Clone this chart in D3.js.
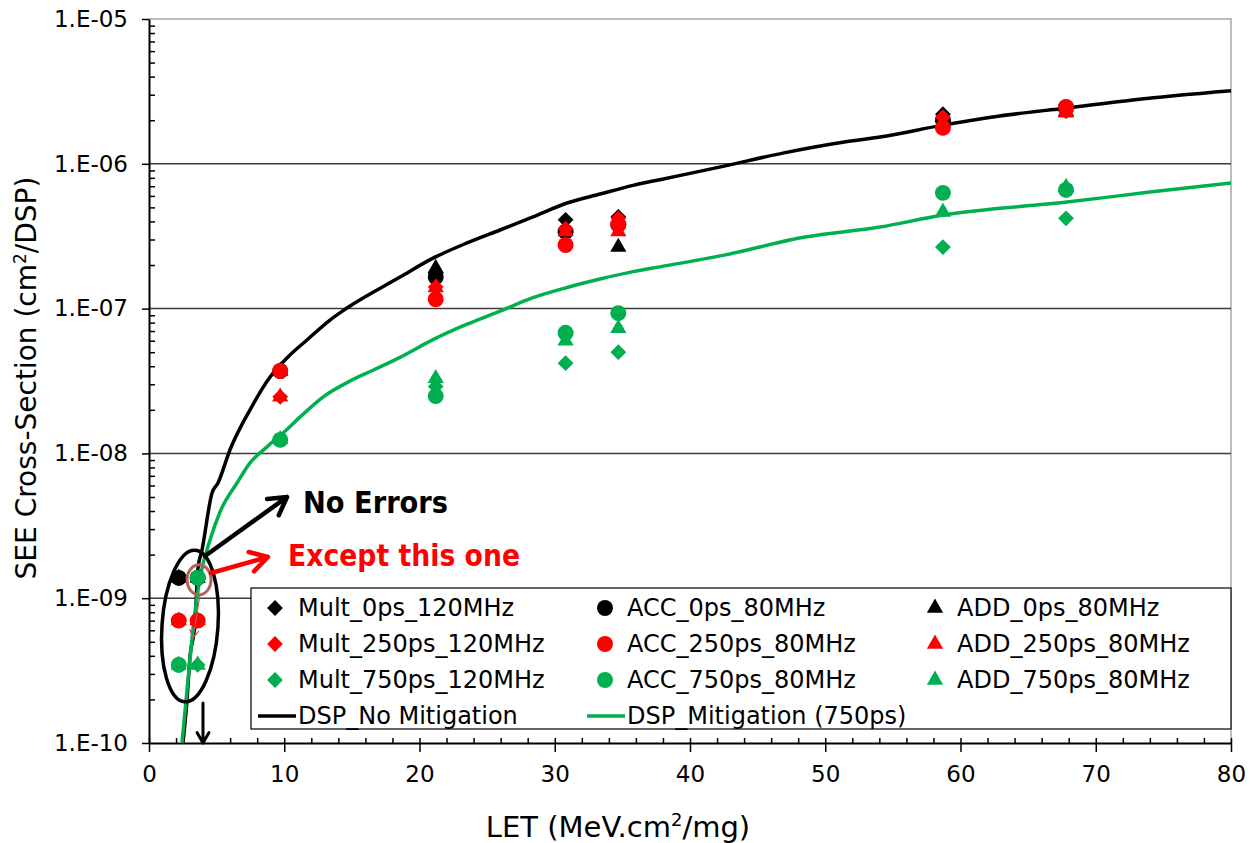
<!DOCTYPE html>
<html>
<head>
<meta charset="utf-8">
<script src="https://cdn.jsdelivr.net/npm/d3@7"></script>
<style>
  body { margin: 0; background: #fff; }
  text { font-family: "DejaVu Sans", sans-serif; }
</style>
</head>
<body>
<svg id="chart" width="1255" height="843"></svg>
<script>
// LET values of the measured points (MeV.cm2/mg)
const letValues = [2.2, 3.6, 9.7, 21.2, 30.8, 34.7, 58.7, 67.8];

// cross-sections (cm2/DSP)
const mult0ps   = [1.38e-9, 1.38e-9, 3.7e-8, 1.73e-7, 4.1e-7, 4.3e-7, 2.2e-6, 2.4e-6];
const acc0ps    = [1.38e-9, 1.38e-9, 3.7e-8, 1.65e-7, 3.4e-7, 3.8e-7, 2.0e-6, 2.45e-6];
const add0ps    = [1.38e-9, 1.38e-9, 3.7e-8, 1.9e-7, 3.6e-7, 2.66e-7, 2.1e-6, 2.3e-6];
const mult250ps = [7.0e-10, 7.0e-10, 2.46e-8, 1.41e-7, 3.55e-7, 4.2e-7, 2.1e-6, 2.3e-6];
const acc250ps  = [7.0e-10, 7.0e-10, 3.71e-8, 1.16e-7, 2.75e-7, 3.8e-7, 1.77e-6, 2.47e-6];
const add250ps  = [7.0e-10, 7.0e-10, 2.46e-8, 1.4e-7, 3.4e-7, 3.4e-7, 1.95e-6, 2.25e-6];
const mult750ps = [3.46e-10, 3.46e-10, 1.24e-8, 2.9e-8, 4.2e-8, 5.0e-8, 2.66e-7, 4.2e-7];
const acc750ps  = [3.46e-10, 1.38e-9, 1.24e-8, 2.49e-8, 6.8e-8, 9.3e-8, 6.3e-7, 6.6e-7];
const add750ps  = [3.46e-10, 3.46e-10, 1.25e-8, 3.3e-8, 6.0e-8, 7.3e-8, 4.65e-7, 6.9e-7];

// fitted curves
const fitLetNoMit = [2.51, 2.81, 3.03, 3.4, 3.62, 3.92, 4.66, 5.1, 5.99, 7.47, 8.95, 10.2, 11.68, 13.38, 14.64,
  18.56, 21.0, 23.51, 25.95, 28.39, 30.91, 33.35, 35.79, 37.86, 42.44, 46.95, 51.53, 54.05, 58.71, 62.92, 67.87, 72.75, 80];
const fitNoMitigation = [1.0e-10, 1.98e-10, 3.93e-10, 6.75e-10, 1.6e-9, 2.15e-9, 5.33e-9, 6.25e-9, 1.06e-8, 2.0e-8, 3.37e-8,
  4.56e-8, 6.07e-8, 8.34e-8, 1.01e-7, 1.65e-7, 2.23e-7, 2.84e-7, 3.49e-7, 4.3e-7, 5.36e-7, 6.18e-7, 7.1e-7, 7.8e-7,
  9.6e-7, 1.19e-6, 1.42e-6, 1.53e-6, 1.85e-6, 2.14e-6, 2.43e-6, 2.76e-6, 3.19e-6];
const fitLetMit = [2.44, 2.88, 3.33, 3.77, 4.51, 5.25, 6.51, 7.47, 8.72, 9.91, 11.16, 12.86, 14.86, 16.56, 18.56, 21.0,
  23.51, 25.95, 28.39, 30.91, 33.35, 35.79, 37.86, 42.44, 48.5, 54.05, 58.71, 67.87, 74.0, 80];
const fitMitigation = [1.0e-10, 2.72e-10, 7.08e-10, 1.38e-9, 2.52e-9, 3.94e-9, 6.25e-9, 8.6e-9, 1.11e-8, 1.38e-8, 1.78e-8,
  2.45e-8, 3.16e-8, 3.75e-8, 4.6e-8, 6.1e-8, 7.8e-8, 9.6e-8, 1.19e-7, 1.4e-7, 1.6e-7, 1.8e-7, 1.95e-7, 2.33e-7,
  3.12e-7, 3.66e-7, 4.43e-7, 5.44e-7, 6.38e-7, 7.36e-7];

const xTicks = [0, 10, 20, 30, 40, 50, 60, 70, 80];
const yTicks = [1e-10, 1e-9, 1e-8, 1e-7, 1e-6, 1e-5];

const BLACK = "#000000", RED = "#ff0000", GREEN = "#00b050";

const series = [
  { name: "Mult_0ps_120MHz",   shape: "diamond",  color: BLACK, values: mult0ps },
  { name: "ACC_0ps_80MHz",     shape: "circle",   color: BLACK, values: acc0ps },
  { name: "ADD_0ps_80MHz",     shape: "triangle", color: BLACK, values: add0ps },
  { name: "Mult_250ps_120MHz", shape: "diamond",  color: RED,   values: mult250ps },
  { name: "ACC_250ps_80MHz",   shape: "circle",   color: RED,   values: acc250ps },
  { name: "ADD_250ps_80MHz",   shape: "triangle", color: RED,   values: add250ps },
  { name: "Mult_750ps_120MHz", shape: "diamond",  color: GREEN, values: mult750ps },
  { name: "ACC_750ps_80MHz",   shape: "circle",   color: GREEN, values: acc750ps },
  { name: "ADD_750ps_80MHz",   shape: "triangle", color: GREEN, values: add750ps }
];
const fits = [
  { name: "DSP_No Mitigation",     color: BLACK, lets: fitLetNoMit, values: fitNoMitigation },
  { name: "DSP_Mitigation (750ps)", color: GREEN, lets: fitLetMit,   values: fitMitigation }
];

const svg = d3.select("#chart");
const plotLeft = 149, plotRight = 1231, plotTop = 19, plotBottom = 743;

const x = d3.scaleLinear().domain([0, 80]).range([plotLeft, plotRight]);
const y = d3.scaleLog().domain([1e-10, 1e-5]).range([plotBottom, plotTop]);

const symbolPath = shape => {
  if (shape === "circle") return d3.symbol(d3.symbolCircle, 200)();
  if (shape === "triangle") return d3.symbol(d3.symbolTriangle, 115)();
  return d3.symbol(d3.symbolSquare, 125)();
};
const symbolRotate = shape => shape === "diamond" ? " rotate(45)" : "";

// plot frame (top / right) and gridlines
svg.append("path")
  .attr("d", `M${plotLeft},${plotTop}H${plotRight}V${plotBottom}`)
  .attr("fill", "none").attr("stroke", "#a6a6a6").attr("stroke-width", 1.5);

svg.append("g").selectAll("line")
  .data(yTicks.slice(1, -1))
  .join("line")
  .attr("x1", plotLeft).attr("x2", plotRight)
  .attr("y1", d => y(d)).attr("y2", d => y(d))
  .attr("stroke", "#3c3c3c").attr("stroke-width", 1.5);

// minor ticks
const yMinor = [];
yTicks.slice(0, -1).forEach(d => { for (let k = 2; k <= 9; k++) yMinor.push(d * k); });
const xMinor = d3.range(0, 81, 2).filter(d => d % 10 !== 0);

svg.append("g").attr("transform", `translate(${plotLeft},0)`)
  .call(d3.axisLeft(y).tickValues(yMinor).tickSize(-6).tickFormat(""))
  .call(g => g.select(".domain").remove())
  .selectAll("line").attr("stroke", "#000").attr("stroke-width", 1.5);
svg.append("g").attr("transform", `translate(0,${plotBottom})`)
  .call(d3.axisBottom(x).tickValues(xMinor).tickSize(-5).tickFormat(""))
  .call(g => g.select(".domain").remove())
  .selectAll("line").attr("stroke", "#000").attr("stroke-width", 1.5);

// major axes
const yAxis = svg.append("g").attr("transform", `translate(${plotLeft},0)`)
  .call(d3.axisLeft(y).tickValues(yTicks).tickSizeInner(7).tickSizeOuter(0).tickPadding(14)
    .tickFormat(d => "1.E-" + String(-Math.round(Math.log10(d))).padStart(2, "0")));
yAxis.select(".domain").attr("stroke", "#000").attr("stroke-width", 2);
yAxis.selectAll(".tick line").attr("stroke-width", 1.5);
yAxis.selectAll("text").attr("font-size", 23).attr("font-family", "DejaVu Sans").attr("fill", "#000");

const xAxis = svg.append("g").attr("transform", `translate(0,${plotBottom})`)
  .call(d3.axisBottom(x).tickValues(xTicks).tickSizeInner(9).tickSizeOuter(0).tickPadding(14).tickFormat(d3.format("d")));
xAxis.select(".domain").attr("stroke", "#000").attr("stroke-width", 2);
xAxis.selectAll(".tick line").attr("stroke-width", 1.5).attr("y1", -5);
xAxis.selectAll("text").attr("font-size", 23).attr("font-family", "DejaVu Sans").attr("fill", "#000");

// axis titles
const yTitle = svg.append("text")
  .attr("transform", "translate(36,378) rotate(-90)")
  .attr("text-anchor", "middle").attr("font-size", 28);
yTitle.append("tspan").text("SEE Cross-Section  (cm");
yTitle.append("tspan").attr("font-size", 17).attr("dy", -10).text("2");
yTitle.append("tspan").attr("dy", 10).text("/DSP)");

const xTitle = svg.append("text")
  .attr("x", 618).attr("y", 837)
  .attr("text-anchor", "middle").attr("font-size", 29);
xTitle.append("tspan").text("LET (MeV.cm");
xTitle.append("tspan").attr("font-size", 18).attr("dy", -11).text("2");
xTitle.append("tspan").attr("dy", 11).text("/mg)");

// fitted curves
const line = d3.line().x(d => x(d[0])).y(d => y(d[1])).curve(d3.curveMonotoneX);
svg.append("g").selectAll("path")
  .data(fits)
  .join("path")
  .attr("d", f => line(f.lets.map((l, i) => [l, f.values[i]])))
  .attr("fill", "none").attr("stroke", f => f.color).attr("stroke-width", 3.5);

// measured points
svg.append("g").selectAll("g")
  .data(series)
  .join("g")
  .attr("fill", s => s.color)
  .selectAll("path")
  .data(s => s.values.map((v, i) => ({ x: letValues[i], v, shape: s.shape })))
  .join("path")
  .attr("d", d => symbolPath(d.shape))
  .attr("transform", d => `translate(${x(d.x)},${y(d.v)})${symbolRotate(d.shape)}`);

// annotations
const ann = svg.append("g").attr("fill", "none").attr("stroke-linecap", "round").attr("stroke-linejoin", "round");
const arrow = (x1, y1, x2, y2, color, w, head) => {
  const a = Math.atan2(y2 - y1, x2 - x1), s = Math.PI / 6;
  ann.append("path")
    .attr("d", `M${x1},${y1}L${x2},${y2}M${x2 - head * Math.cos(a - s)},${y2 - head * Math.sin(a - s)}L${x2},${y2}L${x2 - head * Math.cos(a + s)},${y2 - head * Math.sin(a + s)}`)
    .attr("stroke", color).attr("stroke-width", w);
};

ann.append("ellipse")
  .attr("cx", x(3.03)).attr("cy", y(6.43e-10)).attr("rx", 28).attr("ry", 76)
  .attr("transform", `rotate(4,${x(3.03)},${y(6.43e-10)})`)
  .attr("stroke", "#000").attr("stroke-width", 3.5);
ann.append("ellipse")
  .attr("cx", x(3.7)).attr("cy", y(1.34e-9)).attr("rx", 12).attr("ry", 15)
  .attr("stroke", "#b5605a").attr("stroke-width", 3);
arrow(200, 595, 193, 638, "#b5605a", 1.2, 9);
arrow(203, 703, 203, 743, "#000", 3, 12);
arrow(205, 556, 287, 497, "#000", 4.5, 20);
arrow(211, 573, 268, 557, RED, 4.5, 20);

svg.append("text").attr("x", 303).attr("y", 513)
  .attr("font-family", "Open Sans").attr("font-weight", "bold").attr("font-size", 31)
  .attr("textLength", 145).attr("lengthAdjust", "spacingAndGlyphs")
  .attr("fill", "#000").text("No Errors");
svg.append("text").attr("x", 288).attr("y", 566)
  .attr("font-family", "Open Sans").attr("font-weight", "bold").attr("font-size", 31)
  .attr("textLength", 232).attr("lengthAdjust", "spacingAndGlyphs")
  .attr("fill", RED).text("Except this one");

// legend
const legend = svg.append("g");
legend.append("rect").attr("x", 251).attr("y", 588).attr("width", plotRight - 251).attr("height", 141)
  .attr("fill", "#fff").attr("stroke", "#000").attr("stroke-width", 1.2);

const colX = [275, 605, 935], textX = [298, 627, 957], rowY = [608, 644, 680, 716];
const items = legend.selectAll("g.item")
  .data(series)
  .join("g")
  .attr("transform", (s, i) => `translate(0,${rowY[Math.floor(i / 3)]})`);
items.append("path")
  .attr("d", s => symbolPath(s.shape))
  .attr("fill", s => s.color)
  .attr("transform", (s, i) => `translate(${colX[i % 3]},0)${symbolRotate(s.shape)}`);
items.append("text")
  .attr("x", (s, i) => textX[i % 3]).attr("dy", "0.35em")
  .attr("font-size", 24).text(s => s.name);

const fitItems = legend.selectAll("g.fit")
  .data(fits)
  .join("g")
  .attr("transform", `translate(0,${rowY[3]})`);
fitItems.append("line")
  .attr("x1", (f, i) => [258, 587][i]).attr("x2", (f, i) => [296, 625][i])
  .attr("stroke", f => f.color).attr("stroke-width", 3.5);
fitItems.append("text")
  .attr("x", (f, i) => textX[i]).attr("dy", "0.35em")
  .attr("font-size", 24).text(f => f.name);
</script>
</body>
</html>
